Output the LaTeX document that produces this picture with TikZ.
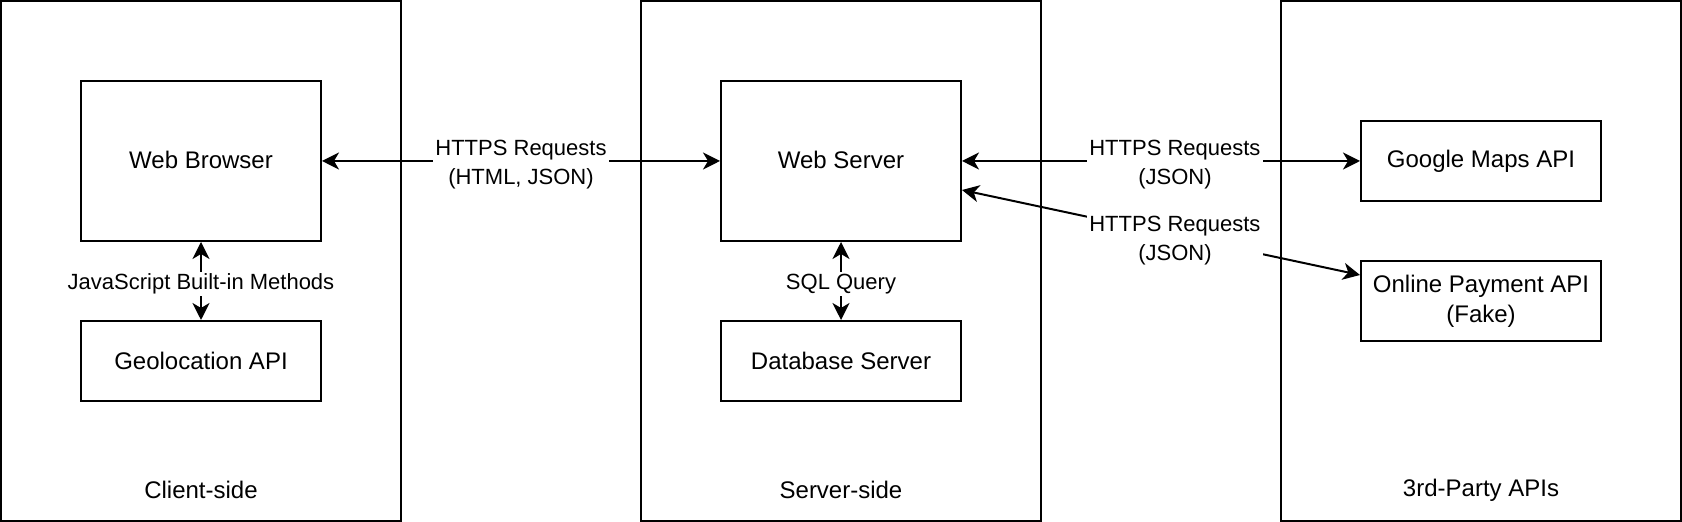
\documentclass[tikz,border=0pt]{standalone}
\usepackage{fontspec}
\setmainfont{Liberation Sans}
\usetikzlibrary{arrows.meta,calc}
\begin{document}
\begin{tikzpicture}[x=1pt,y=-1pt,
  container/.style={draw,line width=1pt,minimum width=200pt,minimum height=260pt,inner sep=0pt},
  box/.style={draw,line width=1pt,inner sep=0pt,align=center,font=\fontsize{12}{15}\selectfont},
  grouplabel/.style={font=\fontsize{12}{15}\selectfont,inner sep=0pt},
  lab/.style={fill=white,align=center,inner sep=1pt,font=\fontsize{11}{14.5}\selectfont},
  biarrow/.style={line width=1pt,{Stealth[length=8.5pt,width=8.5pt,inset=2.5pt]}-{Stealth[length=8.5pt,width=8.5pt,inset=2.5pt]}}
]
\useasboundingbox (-0.5,-0.5) rectangle (840.5,260.5);
% containers
\node[container] (client) at (100,130) {};
\node[container] (server) at (420,130) {};
\node[container] (third) at (740,130) {};
\node[grouplabel] (clientlab) at (100,244.5) {Client-side};
\node[grouplabel] (serverlab) at (420,244.5) {Server-side};
\node[grouplabel] (thirdlab) at (740,244.5) {3rd-Party APIs};
% boxes
\node[box,minimum width=120pt,minimum height=80pt] (wb) at (100,80) {\raisebox{1pt}{Web Browser}};
\node[box,minimum width=120pt,minimum height=40pt] (geo) at (100,180) {Geolocation API};
\node[box,minimum width=120pt,minimum height=80pt] (ws) at (420,80) {\raisebox{1pt}{Web Server}};
\node[box,minimum width=120pt,minimum height=40pt] (db) at (420,180) {Database Server};
\node[box,minimum width=120pt,minimum height=40pt] (gm) at (740,80) {Google Maps API};
\node[box,minimum width=120pt,minimum height=40pt] (op) at (740,150) {Online Payment API\\(Fake)};
% connectors
\draw[biarrow] (wb.east) -- (ws.west) node[midway,lab,yshift=-2pt] {HTTPS Requests\\(HTML, JSON)};
\draw[biarrow] (ws.east) -- (gm.west) node[pos=0.535,lab,yshift=-2pt] {HTTPS Requests\\(JSON)};
\coordinate (wsd) at ($(ws.east)+(0,14.5)$);
\coordinate (opd) at ($(op.west)+(0,-13)$);
\draw[biarrow] (wsd) -- (opd) node[pos=0.535,lab,yshift=-2.5pt] {HTTPS Requests\\(JSON)};
\draw[biarrow] (wb.south) -- (geo.north) node[midway,lab,yshift=-1.5pt] {JavaScript Built-in Methods};
\draw[biarrow] (ws.south) -- (db.north) node[midway,lab,yshift=-1.5pt] {SQL Query};
\end{tikzpicture}
\end{document}
